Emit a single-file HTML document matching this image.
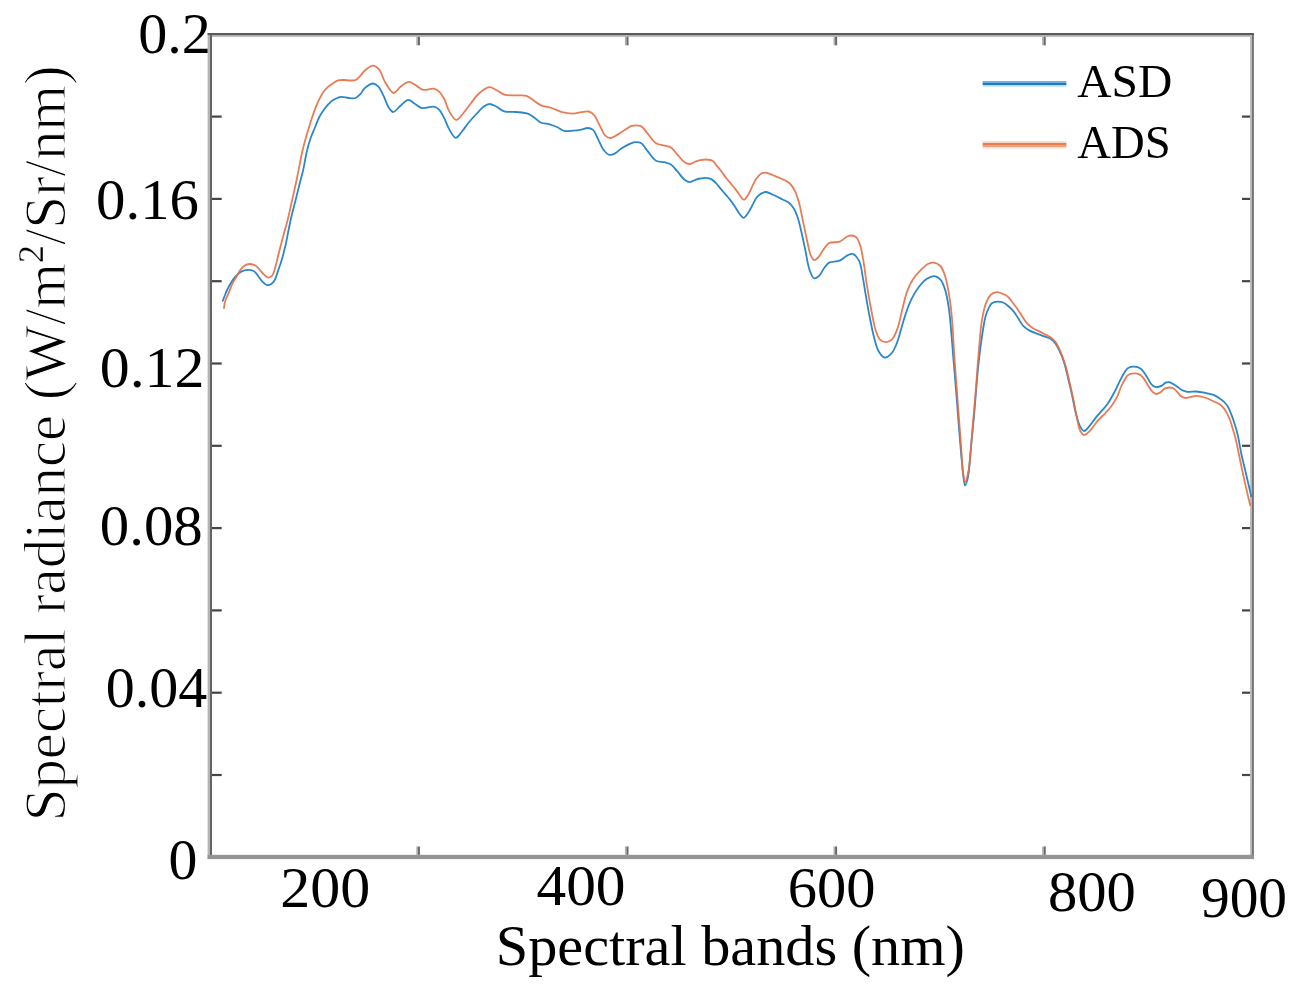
<!DOCTYPE html>
<html><head><meta charset="utf-8"><title>Spectral radiance</title>
<style>
html,body{margin:0;padding:0;background:#fff;}
body{width:1302px;height:995px;overflow:hidden;}
svg{display:block;}
text{font-family:"Liberation Serif","Times New Roman",serif;fill:#000;}
</style></head><body>
<svg width="1302" height="995" viewBox="0 0 1302 995">
<rect width="1302" height="995" fill="#fff"/>
<rect x="207.60" y="33.00" width="2.40" height="826.00" fill="#b4b4b4"/><rect x="210.00" y="33.00" width="2.00" height="826.00" fill="#646464"/><rect x="1250.10" y="33.00" width="2.00" height="826.00" fill="#b8b8b8"/><rect x="1252.10" y="33.00" width="1.70" height="826.00" fill="#646464"/><rect x="207.60" y="854.80" width="1046.20" height="4.30" fill="#959595"/><rect x="207.60" y="33.00" width="1046.20" height="2.05" fill="#5a5a5a"/><rect x="212.00" y="35.05" width="1038.10" height="1.75" fill="#acacac"/><rect x="212.00" y="773.90" width="9.70" height="2.20" fill="#454545"/><rect x="1242.00" y="773.90" width="8.10" height="2.20" fill="#454545"/><rect x="212.00" y="691.60" width="9.70" height="2.20" fill="#454545"/><rect x="1242.00" y="691.60" width="8.10" height="2.20" fill="#454545"/><rect x="212.00" y="609.30" width="9.70" height="2.20" fill="#454545"/><rect x="1242.00" y="609.30" width="8.10" height="2.20" fill="#454545"/><rect x="212.00" y="527.00" width="9.70" height="2.20" fill="#454545"/><rect x="1242.00" y="527.00" width="8.10" height="2.20" fill="#454545"/><rect x="212.00" y="444.70" width="9.70" height="2.20" fill="#454545"/><rect x="1242.00" y="444.70" width="8.10" height="2.20" fill="#454545"/><rect x="212.00" y="362.40" width="9.70" height="2.20" fill="#454545"/><rect x="1242.00" y="362.40" width="8.10" height="2.20" fill="#454545"/><rect x="212.00" y="280.10" width="9.70" height="2.20" fill="#454545"/><rect x="1242.00" y="280.10" width="8.10" height="2.20" fill="#454545"/><rect x="212.00" y="197.80" width="9.70" height="2.20" fill="#454545"/><rect x="1242.00" y="197.80" width="8.10" height="2.20" fill="#454545"/><rect x="212.00" y="115.50" width="9.70" height="2.20" fill="#454545"/><rect x="1242.00" y="115.50" width="8.10" height="2.20" fill="#454545"/><rect x="416.30" y="846.50" width="1.60" height="8.30" fill="#b0b0b0"/><rect x="417.90" y="846.50" width="2.00" height="8.30" fill="#666666"/><rect x="416.30" y="36.80" width="1.60" height="8.50" fill="#b0b0b0"/><rect x="417.90" y="36.80" width="2.00" height="8.50" fill="#666666"/><rect x="624.90" y="846.50" width="1.60" height="8.30" fill="#b0b0b0"/><rect x="626.50" y="846.50" width="2.00" height="8.30" fill="#666666"/><rect x="624.90" y="36.80" width="1.60" height="8.50" fill="#b0b0b0"/><rect x="626.50" y="36.80" width="2.00" height="8.50" fill="#666666"/><rect x="833.50" y="846.50" width="1.60" height="8.30" fill="#b0b0b0"/><rect x="835.10" y="846.50" width="2.00" height="8.30" fill="#666666"/><rect x="833.50" y="36.80" width="1.60" height="8.50" fill="#b0b0b0"/><rect x="835.10" y="36.80" width="2.00" height="8.50" fill="#666666"/><rect x="1042.10" y="846.50" width="1.60" height="8.30" fill="#b0b0b0"/><rect x="1043.70" y="846.50" width="2.00" height="8.30" fill="#666666"/><rect x="1042.10" y="36.80" width="1.60" height="8.50" fill="#b0b0b0"/><rect x="1043.70" y="36.80" width="2.00" height="8.50" fill="#666666"/>
<g fill="none" stroke-width="1.8" stroke-linejoin="round" stroke-linecap="round">
<path stroke="#2b87cc" d="M222.80,300.80 C222.80,300.80 224.26,296.86 225.00,295.00 C225.69,293.27 226.26,291.77 227.10,290.00 C228.10,287.91 229.45,285.39 230.70,283.30 C231.86,281.37 232.92,279.58 234.30,277.90 C235.71,276.18 237.44,274.34 239.10,273.10 C240.52,272.03 241.92,271.25 243.50,270.70 C245.14,270.13 247.14,269.75 248.80,269.80 C250.29,269.85 251.77,270.22 253.00,270.80 C254.15,271.35 255.06,272.14 256.00,273.10 C257.09,274.21 257.95,275.81 259.00,277.20 C260.11,278.67 261.11,280.39 262.50,281.70 C263.95,283.07 265.95,285.00 267.60,285.20 C268.97,285.37 270.45,284.51 271.60,283.70 C272.80,282.86 273.78,281.55 274.60,280.20 C275.48,278.74 275.96,276.96 276.60,275.20 C277.30,273.28 277.92,271.09 278.60,269.10 C279.25,267.19 279.97,265.40 280.60,263.50 C281.24,261.57 281.83,259.63 282.40,257.60 C283.00,255.47 283.55,253.19 284.10,251.00 C284.65,248.83 285.06,247.37 285.70,244.50 C286.93,238.99 288.87,227.90 290.60,220.20 C292.18,213.16 293.93,206.80 295.60,200.10 C297.27,193.40 299.21,185.47 300.60,180.00 C301.56,176.21 302.23,174.20 303.10,170.40 C304.35,164.94 305.69,156.09 307.10,150.30 C308.19,145.82 309.22,142.24 310.50,138.50 C311.70,135.00 313.11,131.91 314.50,128.50 C315.97,124.92 317.47,120.69 319.10,117.50 C320.44,114.88 321.78,112.81 323.30,110.60 C324.81,108.41 326.47,106.11 328.20,104.30 C329.76,102.67 331.46,101.19 333.10,100.10 C334.50,99.17 335.86,98.54 337.30,98.00 C338.70,97.48 339.98,96.98 341.60,96.90 C343.64,96.80 346.26,97.82 348.60,98.00 C350.93,98.18 353.58,98.74 355.60,98.00 C357.56,97.29 359.09,95.41 360.60,93.80 C362.17,92.13 362.94,89.73 364.80,88.10 C366.95,86.21 370.65,83.45 373.10,83.50 C375.08,83.54 376.82,85.06 378.40,86.70 C380.49,88.87 382.01,92.84 383.70,96.20 C385.52,99.84 386.96,105.02 388.90,107.80 C390.23,109.71 391.55,111.95 393.20,112.00 C395.29,112.06 397.99,107.71 400.50,105.70 C403.02,103.68 405.80,100.04 408.30,99.90 C410.44,99.78 412.35,102.21 414.50,103.50 C416.87,104.92 419.03,107.46 421.90,108.10 C425.22,108.84 430.44,106.18 433.50,106.70 C435.67,107.07 437.21,107.87 438.80,109.30 C440.87,111.17 442.44,114.68 444.10,117.80 C445.97,121.31 447.25,125.95 449.30,129.40 C451.17,132.55 453.49,137.65 455.70,137.80 C457.73,137.94 459.98,133.84 462.00,131.50 C464.20,128.95 465.97,125.86 468.30,123.00 C470.86,119.86 474.02,116.42 476.80,113.50 C479.31,110.86 481.80,107.81 484.20,106.20 C485.97,105.02 487.56,104.06 489.40,104.00 C491.41,103.93 493.58,105.15 495.80,106.20 C498.48,107.47 501.03,110.41 504.20,111.40 C507.63,112.47 511.86,111.62 515.80,112.00 C519.92,112.40 525.02,112.52 528.40,113.80 C531.02,114.79 532.70,116.53 534.80,118.00 C536.93,119.49 538.71,121.65 541.10,122.70 C543.61,123.80 546.90,123.55 549.60,124.30 C552.16,125.01 554.49,125.93 556.90,127.00 C559.40,128.11 561.66,130.28 564.30,130.90 C566.96,131.52 569.98,130.92 572.80,130.70 C575.61,130.48 578.61,130.10 581.20,129.60 C583.46,129.17 585.50,127.96 587.50,128.00 C589.35,128.04 591.24,128.35 592.80,129.60 C594.98,131.35 596.37,135.83 598.10,139.10 C599.91,142.52 601.22,146.96 603.40,149.70 C605.21,151.98 607.57,154.45 609.70,154.90 C611.45,155.27 613.24,154.28 615.00,153.40 C617.11,152.35 618.98,150.11 621.30,148.60 C623.87,146.93 627.27,145.00 629.80,143.90 C631.70,143.07 633.16,142.35 635.00,142.20 C636.98,142.04 639.38,142.09 641.30,143.20 C643.73,144.61 645.39,148.45 647.70,151.20 C650.28,154.26 652.95,158.94 656.10,160.70 C658.70,162.15 662.00,161.52 664.60,162.20 C666.88,162.80 668.95,163.12 670.90,164.40 C673.20,165.91 675.03,168.79 677.20,171.20 C679.59,173.86 682.12,177.87 684.60,179.70 C686.39,181.03 688.20,182.09 690.00,182.10 C691.80,182.11 693.60,180.41 695.40,179.80 C697.10,179.22 698.77,178.83 700.50,178.50 C702.24,178.16 704.00,177.68 705.80,177.80 C707.73,177.93 709.96,178.46 711.70,179.40 C713.43,180.33 714.75,181.90 716.20,183.40 C717.79,185.04 719.20,187.01 720.80,188.90 C722.52,190.93 724.49,193.18 726.20,195.20 C727.78,197.06 729.24,198.69 730.70,200.60 C732.24,202.61 733.72,204.79 735.20,207.00 C736.75,209.31 738.25,212.28 739.80,214.20 C740.99,215.68 742.13,217.80 743.40,217.80 C744.82,217.80 746.52,215.13 747.90,213.30 C749.57,211.09 750.89,207.91 752.40,205.20 C753.92,202.47 755.25,199.06 757.00,197.00 C758.37,195.39 759.92,194.24 761.50,193.40 C762.93,192.64 764.55,191.97 766.00,192.00 C767.38,192.02 768.66,192.86 770.00,193.40 C771.40,193.96 772.59,194.54 774.20,195.30 C776.43,196.35 779.60,197.95 782.10,199.20 C784.38,200.34 786.68,201.01 788.60,202.50 C790.60,204.05 792.34,206.09 793.80,208.40 C795.44,211.00 796.51,214.00 797.70,217.50 C799.22,221.97 800.43,227.75 801.70,233.20 C803.07,239.05 804.30,245.40 805.60,251.50 C806.90,257.60 807.72,264.96 809.50,269.80 C810.78,273.28 812.22,277.65 814.10,278.30 C815.45,278.77 817.28,277.49 818.70,276.30 C820.64,274.68 822.08,270.86 823.90,268.50 C825.56,266.34 826.78,263.91 829.10,262.60 C831.80,261.07 836.48,261.98 839.60,260.70 C842.53,259.50 844.98,256.54 847.40,255.40 C849.24,254.54 850.91,253.44 852.60,253.90 C854.81,254.51 857.38,257.65 859.00,260.70 C861.19,264.81 861.68,271.63 862.80,277.30 C863.96,283.19 864.72,289.14 865.80,295.40 C866.97,302.17 868.22,309.48 869.60,316.50 C870.99,323.54 872.41,331.38 874.10,337.60 C875.48,342.67 876.48,347.70 878.60,351.20 C880.26,353.94 882.49,357.21 884.70,357.50 C886.80,357.77 889.60,355.41 891.50,353.40 C893.75,351.03 895.17,347.30 896.70,343.60 C898.52,339.19 899.78,333.53 901.30,328.50 C902.81,323.49 904.07,318.47 905.80,313.50 C907.56,308.44 909.44,303.06 911.80,298.40 C914.01,294.03 916.67,289.73 919.40,286.30 C921.75,283.35 924.19,280.52 926.90,278.80 C929.25,277.31 932.07,275.90 934.40,276.10 C936.59,276.29 938.83,277.78 940.50,279.60 C942.56,281.86 943.73,285.53 945.00,289.40 C946.68,294.54 947.66,300.28 948.80,308.00 C950.64,320.47 951.95,341.74 953.30,357.30 C954.52,371.27 955.51,383.65 956.60,397.10 C957.72,410.91 958.75,425.70 959.90,439.10 C960.96,451.41 962.12,466.07 963.20,474.50 C963.81,479.22 964.13,485.41 965.00,485.50 C965.69,485.57 966.84,481.98 967.60,478.90 C969.18,472.45 969.82,458.65 970.90,448.00 C972.06,436.60 973.21,424.75 974.30,412.60 C975.45,399.73 976.41,384.87 977.60,372.80 C978.60,362.70 979.51,354.27 980.80,345.00 C982.10,335.67 983.63,323.67 985.40,317.00 C986.42,313.14 987.45,310.55 988.70,308.10 C989.68,306.19 990.44,304.37 991.90,303.30 C993.37,302.23 995.62,301.83 997.50,301.70 C999.35,301.57 1001.31,301.79 1003.10,302.50 C1005.09,303.29 1007.04,305.01 1008.80,306.50 C1010.54,307.98 1012.08,309.53 1013.60,311.40 C1015.30,313.50 1016.80,316.20 1018.40,318.60 C1020.00,321.00 1021.27,323.78 1023.20,325.80 C1025.06,327.75 1027.33,329.26 1029.70,330.60 C1032.15,331.98 1035.17,332.91 1037.70,333.90 C1039.94,334.78 1041.96,335.50 1044.10,336.30 C1046.26,337.10 1048.71,337.49 1050.60,338.70 C1052.47,339.90 1053.99,341.62 1055.40,343.50 C1056.96,345.57 1058.10,347.98 1059.40,350.70 C1060.99,354.02 1062.63,357.92 1064.00,362.10 C1065.59,366.96 1066.77,372.75 1068.10,378.20 C1069.47,383.81 1070.80,389.43 1072.10,395.30 C1073.47,401.48 1074.59,408.81 1076.10,414.40 C1077.32,418.90 1078.42,423.46 1080.10,426.40 C1081.27,428.44 1082.64,430.91 1084.10,431.00 C1085.65,431.09 1087.52,428.24 1089.20,426.40 C1091.23,424.18 1093.16,420.95 1095.20,418.40 C1097.16,415.96 1099.19,413.74 1101.20,411.40 C1103.22,409.04 1105.38,406.96 1107.30,404.30 C1109.44,401.33 1111.37,397.83 1113.30,394.30 C1115.38,390.50 1117.37,385.98 1119.30,382.20 C1121.02,378.83 1122.63,375.27 1124.30,372.70 C1125.56,370.76 1126.44,368.92 1128.10,367.90 C1129.81,366.85 1132.42,366.50 1134.50,366.60 C1136.52,366.70 1138.77,367.35 1140.40,368.40 C1141.98,369.41 1142.99,371.09 1144.20,372.70 C1145.54,374.49 1146.80,376.76 1148.00,378.70 C1149.12,380.52 1150.01,382.60 1151.20,384.00 C1152.18,385.15 1153.25,386.22 1154.40,386.70 C1155.40,387.12 1156.47,387.13 1157.60,387.00 C1158.94,386.85 1160.57,386.30 1161.90,385.60 C1163.27,384.88 1164.42,383.25 1165.70,382.70 C1166.76,382.25 1167.78,382.06 1168.90,382.20 C1170.25,382.36 1171.76,383.22 1173.20,384.00 C1174.82,384.88 1176.59,386.24 1178.10,387.30 C1179.43,388.23 1180.39,389.27 1181.80,390.00 C1183.38,390.81 1185.13,391.50 1187.20,391.80 C1189.85,392.19 1193.49,391.32 1196.50,391.50 C1199.38,391.67 1202.10,392.24 1204.90,392.80 C1207.74,393.37 1210.80,393.86 1213.40,394.90 C1215.84,395.87 1218.08,397.29 1220.10,398.70 C1221.98,400.01 1223.76,401.40 1225.20,403.00 C1226.57,404.52 1227.63,406.21 1228.60,408.00 C1229.60,409.84 1230.29,411.85 1231.10,413.90 C1231.96,416.08 1232.79,418.30 1233.60,420.70 C1234.49,423.34 1235.42,426.28 1236.20,429.10 C1236.98,431.91 1237.59,434.33 1238.30,437.60 C1239.25,442.00 1240.09,447.89 1241.20,453.20 C1242.37,458.78 1243.91,464.79 1245.20,470.30 C1246.41,475.46 1247.64,480.67 1248.70,485.30 C1249.61,489.28 1251.20,496.40 1251.20,496.40"/>
<path stroke="#e56e42" stroke-opacity="0.9" d="M224.00,308.10 C224.00,308.10 224.56,303.28 225.30,300.80 C226.12,298.05 227.72,295.26 228.90,292.40 C230.12,289.44 231.18,285.97 232.50,283.30 C233.62,281.04 234.86,279.40 236.10,277.30 C237.45,275.01 238.86,272.12 240.30,270.10 C241.47,268.45 242.37,266.91 243.90,265.90 C245.55,264.82 247.98,264.00 250.00,264.00 C252.01,264.00 254.31,264.85 256.00,265.90 C257.62,266.91 258.68,268.66 260.00,270.10 C261.35,271.56 262.59,273.30 264.00,274.60 C265.30,275.80 266.74,277.53 268.10,277.70 C269.27,277.84 270.64,277.07 271.60,276.20 C272.72,275.18 273.44,273.24 274.10,271.60 C274.79,269.89 275.11,267.98 275.60,266.10 C276.11,264.15 276.60,262.11 277.10,260.10 C277.60,258.08 278.10,256.02 278.60,254.00 C279.10,251.99 279.48,250.41 280.10,248.00 C281.05,244.30 282.55,238.65 283.80,234.00 C285.05,229.38 286.34,225.25 287.60,220.20 C289.11,214.14 290.60,206.80 292.10,200.10 C293.60,193.40 295.44,185.48 296.60,180.00 C297.40,176.22 297.74,174.18 298.50,170.40 C299.60,164.92 301.28,156.03 302.60,150.30 C303.59,145.98 304.49,142.65 305.50,139.00 C306.46,135.53 307.45,132.35 308.50,128.90 C309.61,125.26 310.80,121.31 312.00,117.70 C313.14,114.29 314.26,110.91 315.50,107.80 C316.64,104.94 317.78,102.31 319.10,99.70 C320.39,97.14 321.72,94.52 323.30,92.30 C324.78,90.22 326.47,88.27 328.20,86.70 C329.76,85.29 331.43,84.26 333.10,83.20 C334.73,82.17 336.32,80.93 338.10,80.40 C339.86,79.87 341.78,79.99 343.70,80.00 C345.74,80.01 347.96,80.51 350.00,80.50 C351.92,80.49 353.90,80.74 355.60,80.00 C357.46,79.19 359.06,77.10 360.60,75.50 C362.12,73.93 363.00,72.02 364.80,70.50 C366.98,68.65 370.54,65.53 373.10,65.60 C375.37,65.66 377.62,67.71 379.40,69.80 C381.71,72.51 382.44,77.66 384.70,81.40 C387.13,85.41 390.78,92.76 393.70,93.00 C396.02,93.19 397.99,88.53 400.50,86.70 C403.08,84.82 406.32,81.98 409.00,81.90 C411.32,81.83 413.38,83.85 415.60,85.10 C418.01,86.46 420.11,89.13 422.90,89.80 C425.99,90.54 430.64,88.17 433.50,88.70 C435.64,89.10 437.18,90.01 438.80,91.40 C440.80,93.12 442.49,95.90 444.10,98.80 C446.07,102.35 447.13,107.75 449.30,111.40 C451.25,114.67 453.82,119.74 456.20,119.90 C458.40,120.05 460.78,115.94 463.00,113.50 C465.52,110.73 467.83,107.23 470.40,104.00 C473.12,100.58 475.63,96.34 478.90,93.50 C482.01,90.80 486.15,87.43 489.40,87.20 C492.03,87.01 494.37,89.09 496.80,90.30 C499.31,91.55 501.34,93.72 504.20,94.60 C507.53,95.62 512.03,95.20 515.80,95.40 C519.39,95.59 523.22,94.82 526.30,95.80 C529.12,96.69 531.23,99.01 533.70,100.60 C536.16,102.18 538.30,104.09 541.10,105.30 C544.22,106.65 548.21,106.86 551.70,108.00 C555.25,109.16 558.63,111.27 562.20,112.20 C565.67,113.11 569.48,113.66 572.80,113.60 C575.77,113.55 578.48,112.55 581.20,112.20 C583.74,111.87 586.41,110.99 588.60,111.50 C590.60,111.97 592.26,113.06 593.90,114.80 C596.28,117.32 598.18,122.73 600.20,126.40 C602.03,129.73 603.34,134.01 605.50,135.90 C607.06,137.27 608.97,138.07 610.80,138.00 C612.83,137.92 614.88,136.14 617.10,134.90 C619.74,133.43 622.88,131.19 625.50,129.60 C627.76,128.23 629.46,126.48 631.90,125.90 C634.65,125.24 638.68,125.13 641.30,126.40 C643.96,127.69 645.42,131.11 647.70,133.70 C650.31,136.66 652.98,141.22 656.10,143.20 C658.71,144.86 661.98,144.94 664.60,145.70 C666.86,146.35 668.95,146.30 670.90,147.50 C673.22,148.92 675.01,151.95 677.20,154.30 C679.56,156.84 682.12,160.61 684.60,162.20 C686.40,163.35 688.21,164.07 690.00,164.00 C691.81,163.93 693.61,162.34 695.40,161.70 C697.11,161.09 698.73,160.56 700.50,160.20 C702.36,159.82 704.33,159.42 706.30,159.50 C708.36,159.59 710.83,159.74 712.60,160.80 C714.46,161.91 715.59,164.39 717.10,166.20 C718.62,168.03 720.21,169.77 721.70,171.70 C723.25,173.70 724.66,176.01 726.20,178.00 C727.67,179.90 729.20,181.59 730.70,183.40 C732.20,185.22 733.72,186.98 735.20,188.90 C736.75,190.91 738.28,193.31 739.80,195.20 C741.14,196.86 742.45,199.69 743.80,199.70 C745.15,199.71 746.62,197.06 747.90,195.20 C749.54,192.80 750.97,189.04 752.40,186.20 C753.69,183.64 754.65,181.02 756.10,178.90 C757.42,176.98 758.94,174.94 760.60,173.90 C761.99,173.03 763.57,172.62 765.10,172.60 C766.70,172.58 768.45,173.36 770.00,173.90 C771.47,174.41 772.53,174.99 774.20,175.70 C776.67,176.75 780.64,178.20 783.40,179.60 C785.80,180.82 788.02,181.70 789.90,183.50 C792.00,185.51 793.63,188.40 795.10,191.40 C796.78,194.83 797.89,198.73 799.10,203.10 C800.59,208.48 801.70,215.30 803.00,221.40 C804.30,227.50 805.55,233.84 806.90,239.70 C808.16,245.14 809.15,251.83 810.80,255.40 C811.78,257.51 812.78,259.78 814.10,260.00 C815.42,260.22 817.25,258.20 818.70,256.70 C820.57,254.77 822.08,251.26 823.90,248.90 C825.56,246.74 826.77,244.23 829.10,243.00 C831.80,241.57 836.35,242.88 839.60,241.70 C842.89,240.50 845.79,236.47 848.70,235.80 C850.98,235.27 853.52,235.44 855.30,236.60 C857.35,237.93 858.56,240.93 859.80,244.10 C861.61,248.71 862.49,255.92 863.60,262.20 C864.79,268.95 865.43,275.93 866.60,283.30 C867.89,291.45 869.52,300.87 871.10,309.00 C872.54,316.39 873.71,324.48 875.60,330.10 C876.94,334.08 878.06,337.94 880.20,339.90 C881.84,341.41 884.22,342.21 886.20,342.10 C888.22,341.99 890.49,340.81 892.20,339.10 C894.48,336.82 895.99,332.59 897.50,328.50 C899.39,323.38 900.41,316.62 902.00,310.50 C903.67,304.10 905.16,296.56 907.30,290.90 C909.05,286.28 910.93,282.41 913.30,278.80 C915.51,275.43 918.25,272.40 920.90,269.80 C923.30,267.44 925.98,264.82 928.40,263.70 C930.21,262.86 931.87,262.46 933.70,262.70 C935.87,262.99 938.69,264.16 940.50,266.00 C942.66,268.20 943.73,272.03 945.00,275.80 C946.60,280.54 947.63,286.33 948.70,292.40 C949.97,299.66 950.93,307.40 951.80,316.50 C952.93,328.30 953.44,343.43 954.40,357.30 C955.40,371.74 956.60,386.77 957.70,401.50 C958.80,416.23 960.01,432.54 961.00,445.70 C961.80,456.32 962.20,467.98 963.20,474.50 C963.73,477.91 964.24,482.18 965.00,482.20 C965.97,482.23 967.68,475.19 968.70,470.00 C970.40,461.35 970.92,446.82 972.00,434.70 C973.15,421.83 974.30,408.35 975.40,394.90 C976.53,381.09 977.53,366.06 978.70,352.90 C979.74,341.20 980.39,329.07 982.00,319.80 C983.19,312.93 984.48,306.66 986.40,302.10 C987.74,298.91 989.15,296.18 991.10,294.50 C992.71,293.12 994.81,292.22 996.70,292.10 C998.55,291.98 1000.52,293.02 1002.30,293.70 C1004.02,294.36 1005.69,294.93 1007.20,296.10 C1008.96,297.46 1010.43,299.74 1012.00,301.70 C1013.63,303.74 1015.23,305.87 1016.80,308.10 C1018.44,310.43 1020.00,312.98 1021.60,315.40 C1023.20,317.81 1024.51,320.46 1026.40,322.60 C1028.28,324.73 1030.64,326.70 1032.90,328.20 C1034.96,329.57 1037.17,330.32 1039.30,331.40 C1041.44,332.48 1043.64,333.59 1045.70,334.70 C1047.66,335.76 1049.74,336.64 1051.40,337.90 C1052.94,339.07 1054.17,340.27 1055.40,341.90 C1056.88,343.87 1058.06,346.20 1059.40,349.10 C1061.26,353.14 1063.39,358.97 1065.00,364.10 C1066.64,369.33 1067.78,374.67 1069.10,380.20 C1070.49,386.05 1071.80,392.10 1073.10,398.30 C1074.47,404.82 1075.80,412.56 1077.10,418.40 C1078.12,422.96 1078.56,427.57 1080.10,430.50 C1081.17,432.53 1082.54,434.84 1084.10,435.00 C1085.85,435.18 1088.23,432.43 1090.20,430.50 C1092.63,428.12 1094.77,424.16 1097.20,421.40 C1099.45,418.83 1101.90,416.86 1104.20,414.40 C1106.60,411.84 1109.15,409.25 1111.30,406.30 C1113.54,403.23 1115.65,399.64 1117.30,396.30 C1118.83,393.21 1119.74,389.80 1121.00,387.00 C1122.08,384.61 1123.09,382.55 1124.30,380.50 C1125.47,378.52 1126.42,376.10 1128.10,374.90 C1129.69,373.76 1132.07,373.36 1134.00,373.30 C1135.83,373.24 1137.85,373.64 1139.40,374.40 C1140.86,375.12 1141.95,376.27 1143.10,377.60 C1144.48,379.19 1145.65,381.53 1146.90,383.50 C1148.15,385.46 1149.41,387.77 1150.60,389.40 C1151.52,390.67 1152.25,391.83 1153.30,392.60 C1154.27,393.32 1155.43,394.01 1156.60,394.00 C1157.94,393.99 1159.64,392.96 1160.90,392.10 C1162.13,391.25 1162.81,389.66 1164.10,388.90 C1165.45,388.10 1167.33,387.58 1168.90,387.50 C1170.36,387.43 1171.89,387.67 1173.20,388.30 C1174.61,388.98 1175.77,390.38 1177.00,391.60 C1178.31,392.90 1179.32,394.83 1180.80,395.90 C1182.21,396.93 1183.64,397.79 1185.60,398.00 C1188.46,398.31 1193.10,395.80 1196.50,395.80 C1199.48,395.80 1202.14,396.62 1204.90,397.50 C1207.78,398.42 1210.75,400.05 1213.40,401.30 C1215.78,402.42 1218.22,403.24 1220.10,404.60 C1221.79,405.82 1223.06,407.27 1224.30,408.90 C1225.62,410.64 1226.69,412.81 1227.70,414.80 C1228.68,416.74 1229.50,418.53 1230.30,420.70 C1231.23,423.23 1231.97,426.29 1232.80,429.10 C1233.64,431.92 1234.49,434.47 1235.30,437.60 C1236.27,441.37 1237.10,445.51 1238.10,450.20 C1239.36,456.12 1240.81,463.79 1242.20,470.30 C1243.52,476.47 1244.85,482.38 1246.20,488.30 C1247.52,494.08 1250.20,505.40 1250.20,505.40"/>
</g>
<g font-size="58">
<text transform="translate(138.30,52.80) scale(1.0015,1.0000)">0.2</text><text transform="translate(96.07,219.10) scale(1.0143,1.0000)">0.16</text><text transform="translate(99.74,386.70) scale(1.0313,1.0000)">0.12</text><text transform="translate(99.77,544.80) scale(1.0144,1.0000)">0.08</text><text transform="translate(105.70,706.80) scale(1.0000,1.0000)">0.04</text><text transform="translate(168.41,879.10) scale(0.9960,1.0000)">0</text><text transform="translate(280.20,907.10) scale(1.0341,1.0000)">200</text><text transform="translate(536.48,905.00) scale(1.0238,1.0000)">400</text><text transform="translate(787.77,906.60) scale(1.0085,1.0000)">600</text><text transform="translate(1047.88,910.90) scale(1.0108,1.0000)">800</text><text transform="translate(1200.92,916.80) scale(0.9904,1.0000)">900</text>
<text transform="translate(495.78,964.80) scale(1.0048,0.9800)">Spectral bands (nm)</text>
<text transform="translate(65,821.3) rotate(-90)" font-size="58.8" stroke="#fff" stroke-width="1.1">Spectral radiance (W/m<tspan font-size="36" dy="-22" stroke-width="0.3">2</tspan><tspan dy="22">/Sr/nm)</tspan></text>
</g>
<g font-size="47">
<rect x="982.6" y="81.0" width="83.8" height="2" fill="#72b0e0"/><rect x="982.6" y="83.0" width="83.8" height="2" fill="#1a7bc8"/><rect x="982.6" y="85.0" width="83.8" height="1.8" fill="#c2dcf0"/>
<rect x="982.6" y="141.2" width="83.8" height="1.8" fill="#f6d8c8"/><rect x="982.6" y="143.0" width="83.8" height="2" fill="#e5804f"/><rect x="982.6" y="145.0" width="83.8" height="2" fill="#eba07f"/><rect x="982.6" y="147.0" width="83.8" height="1.6" fill="#f9e3d8"/>
<text transform="translate(1077.30,96.50) scale(1.0098,1.0100)">ASD</text>
<text transform="translate(1077.30,158.10) scale(0.9934,1.0100)">ADS</text>
</g>
</svg>
</body></html>
